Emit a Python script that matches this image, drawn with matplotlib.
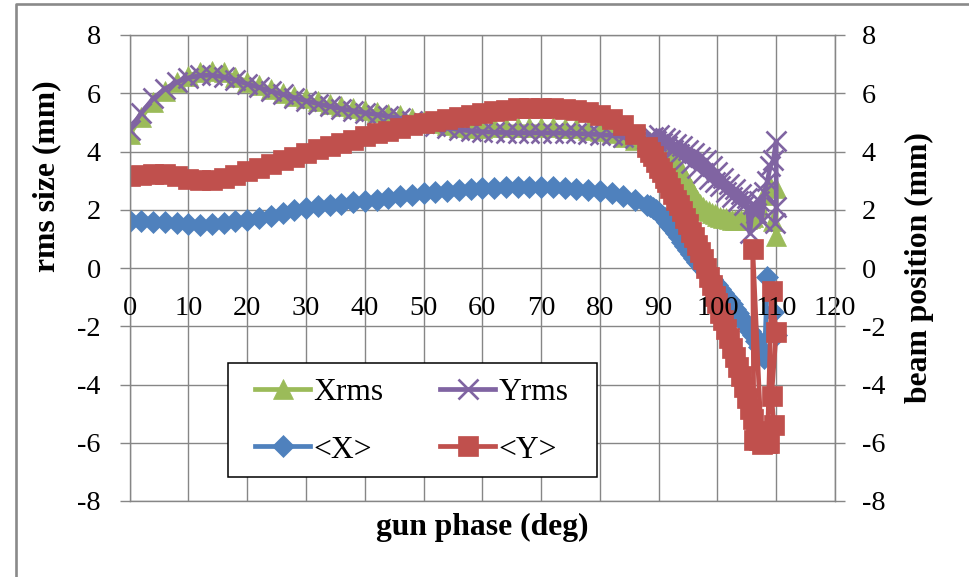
import matplotlib
matplotlib.use("Agg")
import matplotlib.pyplot as plt
from matplotlib.lines import Line2D
from matplotlib.patches import Rectangle

plt.rcParams['font.family'] = ['Liberation Serif', 'DejaVu Serif']
plt.rcParams['axes.unicode_minus'] = False

# ---------------- data ----------------
# coarse scan, 2 deg steps
phase_coarse = [0, 2, 4, 6, 8, 10, 12, 14, 16, 18, 20, 22, 24, 26, 28, 30,
                32, 34, 36, 38, 40, 42, 44, 46, 48, 50, 52, 54, 56, 58, 60,
                62, 64, 66, 68, 70, 72, 74, 76, 78, 80, 82, 84, 86, 88]
# fine scan across the falling edge, 0.5 deg steps
phase_fine = [88.5, 89, 89.5, 90, 90.5, 91, 91.5, 92, 92.5, 93, 93.5, 94,
              94.5, 95, 95.5, 96, 96.5, 97, 97.5, 98, 98.5, 99, 99.5, 100,
              100.5, 101, 101.5, 102, 102.5, 103, 103.5, 104, 104.5, 105,
              105.5, 106, 106.5, 107]

xrms_coarse = [4.6, 5.18, 5.7, 6.08, 6.37, 6.6, 6.73, 6.78, 6.72, 6.56, 6.4,
               6.27, 6.14, 6.02, 5.92, 5.82, 5.72, 5.63, 5.55, 5.48, 5.42,
               5.36, 5.3, 5.24, 5.16, 5.06, 4.97, 4.9, 4.85, 4.82, 4.82, 4.83,
               4.84, 4.85, 4.85, 4.85, 4.84, 4.82, 4.79, 4.75, 4.7, 4.62, 4.5,
               4.4, 4.33]
xrms_fine = [4.32, 4.3, 4.28, 4.25, 4.2, 4.12, 4.02, 3.9, 3.75, 3.6, 3.45,
             3.28, 3.1, 2.9, 2.7, 2.5, 2.35, 2.2, 2.1, 2.0, 1.95, 1.9, 1.85,
             1.8, 1.76, 1.72, 1.7, 1.68, 1.66, 1.65, 1.64, 1.65, 1.66, 1.68,
             1.7, 1.75, 1.9, 2.1]
xrms_tail_phase = [108, 109, 110, 110, 109.5]
xrms_tail = [2.5, 2.8, 2.75, 1.1, 1.6]

yrms_coarse = [4.75, 5.33, 5.82, 6.15, 6.38, 6.53, 6.61, 6.62, 6.56, 6.45,
               6.32, 6.2, 6.07, 5.96, 5.85, 5.74, 5.64, 5.55, 5.47, 5.4, 5.33,
               5.27, 5.21, 5.14, 5.06, 4.97, 4.88, 4.81, 4.75, 4.71, 4.68,
               4.66, 4.65, 4.64, 4.64, 4.64, 4.64, 4.63, 4.62, 4.6, 4.58, 4.55,
               4.5, 4.47, 4.44]
yrms_fine = [4.45, 4.5, 4.35, 4.55, 4.3, 4.45, 4.2, 4.4, 4.05, 4.25, 3.9,
             4.2, 3.75, 4.05, 3.6, 3.95, 3.45, 3.8, 3.25, 3.7, 3.05, 3.5,
             2.95, 3.3, 2.8, 3.1, 2.6, 2.9, 2.45, 2.7, 2.3, 2.55, 2.15, 2.4,
             1.2, 2.2, 1.9, 2.3]
yrms_tail_phase = [107.5, 108, 108.5, 109, 109.5, 110, 110, 109.8]
yrms_tail = [1.6, 2.6, 3.0, 3.5, 3.7, 4.35, 2.1, 1.55]

xpos_coarse = [1.6, 1.6, 1.58, 1.57, 1.54, 1.5, 1.48, 1.5, 1.55, 1.6, 1.65,
               1.72, 1.8, 1.9, 1.98, 2.06, 2.12, 2.17, 2.21, 2.25, 2.29, 2.35,
               2.4, 2.46, 2.51, 2.56, 2.6, 2.64, 2.68, 2.71, 2.74, 2.76, 2.77,
               2.78, 2.78, 2.78, 2.77, 2.75, 2.72, 2.69, 2.64, 2.57, 2.47,
               2.35, 2.18]
xpos_fine = [2.12, 2.05, 1.98, 1.9, 1.8, 1.7, 1.58, 1.45, 1.33, 1.2, 1.05,
             0.9, 0.76, 0.62, 0.48, 0.35, 0.22, 0.1, -0.03, -0.15, -0.27,
             -0.38, -0.5, -0.6, -0.72, -0.85, -0.98, -1.1, -1.25, -1.4, -1.55,
             -1.7, -1.85, -2.0, -2.15, -2.3, -2.5, -2.7]
xpos_tail_phase = [108, 108.5, 109.5, 110]
xpos_tail = [-3.1, -0.3, -1.5, -2.3]

ypos_coarse = [3.16, 3.2, 3.23, 3.22, 3.15, 3.07, 3.02, 3.03, 3.1, 3.2, 3.32,
               3.45, 3.58, 3.7, 3.82, 3.95, 4.07, 4.18, 4.3, 4.4, 4.52, 4.62,
               4.72, 4.82, 4.9, 4.98, 5.05, 5.12, 5.2, 5.27, 5.33, 5.39, 5.44,
               5.48, 5.5, 5.5, 5.49, 5.46, 5.42, 5.36, 5.27, 5.12, 4.92, 4.6,
               4.15]
ypos_fine = [4.0, 3.85, 3.65, 3.45, 3.3, 3.1, 2.95, 2.75, 2.55, 2.35, 2.15,
             1.95, 1.7, 1.5, 1.25, 1.05, 0.8, 0.55, 0.3, 0.0, -0.3, -0.6,
             -0.95, -1.2, -1.55, -1.8, -2.1, -2.4, -2.75, -3.05, -3.4, -3.7,
             -4.1, -4.45, -4.85, -5.2, -5.6, -5.9]
ypos_tail_phase = [107.5, 106, 106.2, 108.5, 109.2, 110, 109.2, 109.6, 108.8]
ypos_tail = [-6.05, 0.65, -5.9, -6.0, -0.8, -2.2, -4.4, -5.4, -6.0]

x_ticks = [0, 10, 20, 30, 40, 50, 60, 70, 80, 90, 100, 110, 120]
y_ticks = [-8, -6, -4, -2, 0, 2, 4, 6, 8]

# ---------------- styling ----------------
GREEN, PURPLE, BLUE, RED = '#9BBB59', '#8064A2', '#4F81BD', '#C0504D'
GRID = '#868686'
TICK_FS = 20.3
LABEL_FS = 22.8
LEGEND_FS = 22.7

W, H = 969, 577
fig = plt.figure(figsize=(W / 100, H / 100), dpi=100)


def fx(px):
    return px / W


def fy(py):
    return 1 - py / H


ax = fig.add_axes([fx(129.7), fy(501), fx(835) - fx(129.7), fy(35) - fy(501)])
ax.set_xlim(0, 120)
ax.set_ylim(-8, 8)


def full(coarse_x, fine_x, tail_x, coarse_y, fine_y, tail_y):
    return coarse_x + fine_x + tail_x, coarse_y + fine_y + tail_y


lw = 3.4
px_, py_ = full(phase_coarse, phase_fine, xrms_tail_phase,
                xrms_coarse, xrms_fine, xrms_tail)
h_xrms, = ax.plot(px_, py_, color=GREEN, lw=lw, marker='^', ms=15,
                  mfc=GREEN, mec=GREEN, mew=0.5, label='Xrms', zorder=2)
px_, py_ = full(phase_coarse, phase_fine, yrms_tail_phase,
                yrms_coarse, yrms_fine, yrms_tail)
h_yrms, = ax.plot(px_, py_, color=PURPLE, lw=lw, marker='x', ms=14.5,
                  mec=PURPLE, mew=1.9, label='Yrms', zorder=2.1)
px_, py_ = full(phase_coarse, phase_fine, xpos_tail_phase,
                xpos_coarse, xpos_fine, xpos_tail)
h_x, = ax.plot(px_, py_, color=BLUE, lw=lw, marker='D', ms=11.5,
               mfc=BLUE, mec=BLUE, mew=0.5, label='<X>', zorder=2.2)
px_, py_ = full(phase_coarse, phase_fine, ypos_tail_phase,
                ypos_coarse, ypos_fine, ypos_tail)
h_y, = ax.plot(px_, py_, color=RED, lw=lw, marker='s', ms=15,
               mfc=RED, mec=RED, mew=0.5, label='<Y>', zorder=2.3)

# grid, spines and ticks
ax.set_xticks(x_ticks)
ax.set_yticks(y_ticks)
ax.set_yticklabels([str(v) for v in y_ticks])
ax.grid(True, color=GRID, lw=1.0, zorder=0)
ax.set_axisbelow(True)
for s in ax.spines.values():
    s.set_color(GRID)
    s.set_linewidth(1.0)
ax.tick_params(axis='x', length=0, labelbottom=False)
ax.tick_params(axis='y', direction='out', length=7.2, width=1.0, color=GRID,
               pad=13.5, labelsize=TICK_FS)

# category labels sit just below the zero line
for t in x_ticks:
    ax.annotate(str(t), xy=(t, 0), xycoords='data', xytext=(0, -33.6),
                textcoords='offset points', ha='center', va='baseline',
                fontsize=TICK_FS, zorder=6, annotation_clip=False)

ax2 = ax.twinx()
ax2.set_ylim(-8, 8)
ax2.set_yticks(y_ticks)
ax2.set_yticklabels([str(v) for v in y_ticks])
for name, s in ax2.spines.items():
    s.set_visible(name == 'right')
    s.set_color(GRID)
ax2.tick_params(axis='y', direction='out', length=7.2, width=1.0, color=GRID,
                pad=12.2, labelsize=TICK_FS)

# axis titles
fig.text(fx(46.5), fy(176), 'rms size (mm)', rotation=90, ha='center',
         va='center', fontsize=LABEL_FS, fontweight='bold')
fig.text(fx(919), fy(267.5), 'beam position (mm)', rotation=90, ha='center',
         va='center', fontsize=LABEL_FS, fontweight='bold')
fig.text(fx(482), fy(527), 'gun phase (deg)', ha='center', va='center',
         fontsize=LABEL_FS, fontweight='bold')

# chart-area border (top and left edges)
fig.add_artist(Line2D([fx(16), fx(16), 1.0], [0.0, fy(3.5), fy(3.5)],
                      color='#8a8a8a', lw=1.9, transform=fig.transFigure))

# legend box and entries
box = Rectangle((fx(228), fy(477)), fx(597) - fx(228), (477 - 363) / H,
                transform=fig.transFigure, facecolor='white',
                edgecolor='black', lw=1.1, zorder=4)
fig.add_artist(box)
leg = fig.legend([h_xrms, h_x, h_yrms, h_y], ['Xrms', '<X>', 'Yrms', '<Y>'],
                 loc='upper left', bbox_to_anchor=(fx(255), fy(378)), ncol=2,
                 frameon=False, borderpad=0, borderaxespad=0,
                 handlelength=1.75, handletextpad=0.1, columnspacing=1.8,
                 labelspacing=0.9, fontsize=LEGEND_FS, numpoints=1)
leg.set_zorder(5)

fig.savefig('out.png', dpi=100, facecolor='white')
